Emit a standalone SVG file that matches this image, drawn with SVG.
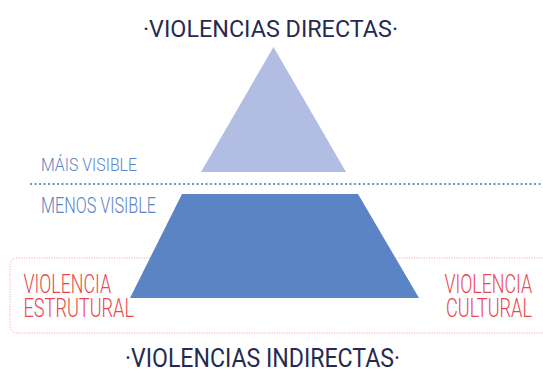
<svg xmlns="http://www.w3.org/2000/svg" width="543" height="372" viewBox="0 0 543 372">
<style>
.t{font-family:Roboto,"Liberation Sans",sans-serif;font-weight:300;}
.title{fill:#262a50;font-weight:400;}
.blue{fill:#5b84c4;}
.red{font-size:25px;fill:#e8474e;}
</style>
<rect width="543" height="372" fill="#ffffff"/>
<g id="connectors">
<line x1="31" y1="184" x2="543" y2="184" stroke="#5b84c4" stroke-width="2.2" stroke-dasharray="0.1 4.4" stroke-linecap="round"/>
<path d="M560 258 H18 Q10 258 10 266 V325 Q10 333 18 333 H560" fill="none" stroke="#f0a596" stroke-width="1" stroke-dasharray="1 1.5"/>
</g>
<g id="top-triangle">
<polygon points="273.5,47 201,172 346,172" fill="#b1bde3"/>
</g>
<g id="trapezoid">
<polygon points="182,194 358,194 419,298 130,298" fill="#5b84c4"/>
</g>
<g id="title-top"><text class="t title" x="143" y="37" font-size="24.5" textLength="255" lengthAdjust="spacingAndGlyphs">·VIOLENCIAS DIRECTAS·</text></g>
<g id="title-bottom"><text class="t title" x="125" y="367" font-size="26" textLength="275" lengthAdjust="spacingAndGlyphs">·VIOLENCIAS INDIRECTAS·</text></g>
<g id="mais-visible"><text class="t blue" x="41" y="171" font-size="18.5" textLength="96" lengthAdjust="spacingAndGlyphs">MÁIS VISIBLE</text></g>
<g id="menos-visible"><text class="t blue" x="41" y="213" font-size="22" textLength="115" lengthAdjust="spacingAndGlyphs">MENOS VISIBLE</text></g>
<g id="violencia-estrutural">
<text class="t red" x="23.5" y="293" textLength="87.5" lengthAdjust="spacingAndGlyphs">VIOLENCIA</text>
<text class="t red" x="23.5" y="317" textLength="110.5" lengthAdjust="spacingAndGlyphs">ESTRUTURAL</text>
</g>
<g id="violencia-cultural">
<text class="t red" x="444.5" y="293" textLength="87.5" lengthAdjust="spacingAndGlyphs">VIOLENCIA</text>
<text class="t red" x="446" y="317" textLength="86" lengthAdjust="spacingAndGlyphs">CULTURAL</text>
</g>
</svg>
